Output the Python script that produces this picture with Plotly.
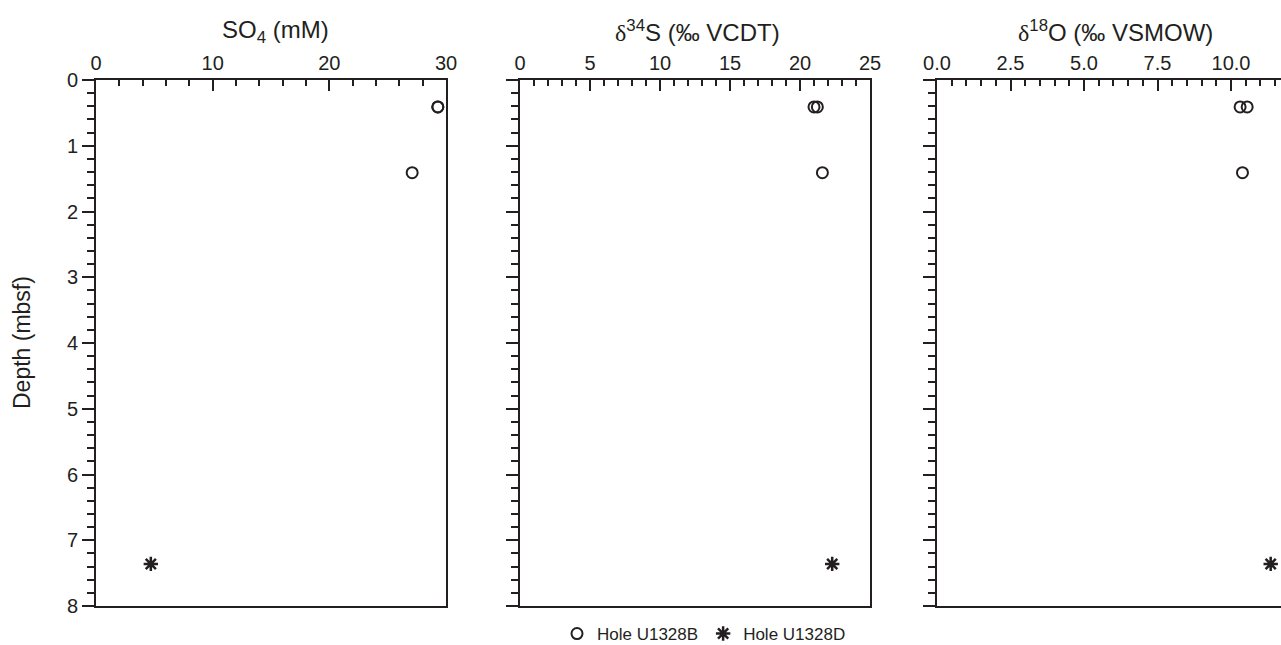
import plotly.graph_objects as go

# Data
depth_B = [0.41, 0.41, 1.41]
depth_D = [7.36]
so4_B = [29.3, 29.3, 27.1]
so4_D = [4.7]
d34s_B = [21.0, 21.24, 21.6]
d34s_D = [22.3]
d18o_B = [10.31, 10.55, 10.39]
d18o_D = [11.35]

titles = ["SO<sub>4</sub> (mM)",
          "<span style='font-family:Liberation Serif'>δ</span><sup>34</sup>S (‰ VCDT)",
          "<span style='font-family:Liberation Serif'>δ</span><sup>18</sup>O (‰ VSMOW)"]

W, H = 1281, 645
INK = "#231f20"
FONT = "Liberation Sans, Arial, sans-serif"

def px(x):
    return x / W

def py(y):
    return (H - y) / H

domains = [[px(96), px(446)], [px(520), px(870)], [px(937), 1.0]]
xranges = [[0, 30], [0, 25], [0, 344 / 29.4]]
dticks = [10, 5, 2.5]
minor_dt = [2, 1, 0.5]
tickfmt = ["d", "d", ".1f"]
title_cx = [275, 697, 1115]
ydom = [py(606), py(80)]

fig = go.Figure()

series = [(so4_B, so4_D), (d34s_B, d34s_D), (d18o_B, d18o_D)]
for i, (xb, xd) in enumerate(series):
    ax = "" if i == 0 else str(i + 1)
    fig.add_trace(go.Scatter(
        x=xb, y=depth_B, mode="markers", name="Hole U1328B",
        xaxis="x" + ax, yaxis="y" + ax, showlegend=(i == 0),
        cliponaxis=False,
        marker=dict(symbol="circle-open", size=11, color=INK, line=dict(width=2, color=INK)),
    ))
    fig.add_trace(go.Scatter(
        x=xd, y=depth_D, mode="markers", name="Hole U1328D",
        xaxis="x" + ax, yaxis="y" + ax, showlegend=(i == 0),
        cliponaxis=False,
        marker=dict(symbol="asterisk-open", size=12, color=INK, line=dict(width=2.5, color=INK)),
    ))

layout = dict(
    width=W, height=H,
    margin=dict(l=0, r=0, t=0, b=0, autoexpand=False),
    paper_bgcolor="white", plot_bgcolor="white",
    font=dict(family=FONT, color=INK, size=20),
    showlegend=True,
    legend=dict(orientation="h", x=px(704), xanchor="center", y=py(634), yanchor="middle",
                font=dict(size=17, color=INK), bgcolor="rgba(0,0,0,0)",
                itemwidth=30, tracegroupgap=0),
    annotations=[],
)

for i in range(3):
    ax = "" if i == 0 else str(i + 1)
    layout["xaxis" + ax] = dict(
        domain=domains[i], range=xranges[i], side="top", automargin=False,
        anchor="y" + ax, showgrid=False, zeroline=False,
        showline=True, linecolor=INK, linewidth=2, mirror=True,
        ticks="inside", ticklen=11, tickwidth=2, tickcolor=INK,
        dtick=dticks[i], tick0=0, tickformat=tickfmt[i],
        tickfont=dict(size=20, color=INK),
        minor=dict(dtick=minor_dt[i], tick0=0, ticks="inside", ticklen=6, tickwidth=2,
                   tickcolor=INK, showgrid=False),
    )
    layout["yaxis" + ax] = dict(
        domain=ydom, range=[8, 0], anchor="x" + ax, automargin=False,
        showgrid=False, zeroline=False,
        showline=True, linecolor=INK, linewidth=2, mirror=True,
        ticks="outside", ticklen=12, tickwidth=2, tickcolor=INK,
        dtick=1, tick0=0, showticklabels=(i == 0),
        tickfont=dict(size=20, color=INK),
        minor=dict(dtick=0.2, tick0=0, ticks="outside", ticklen=7, tickwidth=2,
                   tickcolor=INK, showgrid=False),
    )
    layout["annotations"].append(dict(
        text=titles[i], x=px(title_cx[i]), y=py(31), xref="paper", yref="paper",
        xanchor="center", yanchor="middle", showarrow=False,
        font=dict(size=24, color=INK, family=FONT),
    ))

layout["annotations"].append(dict(
    text="Depth (mbsf)", x=px(22), y=(ydom[0] + ydom[1]) / 2, xref="paper", yref="paper",
    xanchor="center", yanchor="middle", showarrow=False, textangle=-90,
    font=dict(size=23, color=INK, family=FONT),
))

fig.update_layout(**layout)
fig.write_html("out.html")
